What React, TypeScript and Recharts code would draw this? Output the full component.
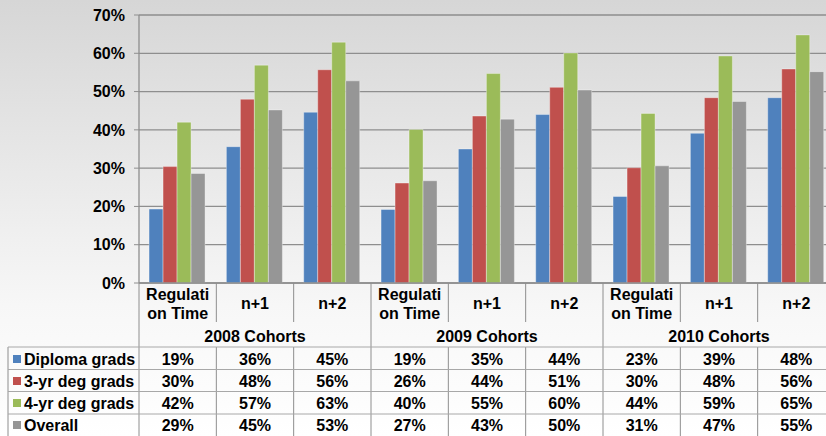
import React from 'react';
import { BarChart, Bar, XAxis, YAxis, CartesianGrid } from 'recharts';

const cohorts = ['2008 Cohorts', '2009 Cohorts', '2010 Cohorts'];
const periods = ['Regulation Time', 'n+1', 'n+2'];
const periodLabels = [['Regulati', 'on Time'], ['n+1'], ['n+2']];
const yTicks = [0, 10, 20, 30, 40, 50, 60, 70];

const diploma = [19.3, 35.6, 44.6, 19.2, 35.0, 44.0, 22.6, 39.1, 48.4];
const threeYr = [30.4, 48.0, 55.7, 26.1, 43.6, 51.1, 30.1, 48.4, 55.9];
const fourYr = [42.0, 56.9, 62.9, 40.1, 54.7, 60.1, 44.3, 59.3, 64.8];
const overall = [28.6, 45.2, 52.8, 26.7, 42.8, 50.4, 30.6, 47.4, 55.2];

const series = [
  { key: 'diploma', name: 'Diploma grads', color: '#4F81BD', values: diploma },
  { key: 'threeYr', name: '3-yr deg grads', color: '#C0504D', values: threeYr },
  { key: 'fourYr', name: '4-yr deg grads', color: '#9BBB59', values: fourYr },
  { key: 'overall', name: 'Overall', color: '#969696', values: overall },
];

const data = cohorts.flatMap((c, ci) =>
  periods.map((p, pi) => {
    const i = ci * 3 + pi;
    const row: any = { id: `${c}|${p}`, cohort: c, period: pi };
    series.forEach((s) => (row[s.key] = s.values[i]));
    return row;
  })
);

const FONT = '"Liberation Sans", Arial, sans-serif';
const DIV = '#8e8e8e';
const ROWLINE = '#a8a8a8';
const BOTTOM = 436;
// offsets below the axis line
const rowLines = [64, 86.5, 108.5, 131];
const rowCenters = [76, 98, 120, 142];

const txt = { fontFamily: FONT, fontWeight: 700, fontSize: 16, fill: '#000' } as const;

const TableTick = (props: any) => {
  const { x, y, payload } = props;
  const index: number = payload?.index ?? props.index ?? 0;
  const half: number = payload?.offset || 38.67;
  const left = x - half;
  const right = x + half;
  const row = data[index];
  const labels = periodLabels[row.period];
  const isCohortEnd = row.period === 2;

  return (
    <g>
      {index === 0 && (
        <g>
          <line x1={left} x2={left} y1={y} y2={BOTTOM} stroke={DIV} />
          <line x1={8} x2={8} y1={y + rowLines[0]} y2={BOTTOM} stroke={DIV} />
          {rowLines.map((r) => (
            <line key={r} x1={8} x2={left} y1={y + r} y2={y + r} stroke={ROWLINE} />
          ))}
          {series.map((s, si) => (
            <g key={s.key}>
              <rect x={13} y={y + rowCenters[si] - 4} width={8} height={8} fill={s.color} />
              <text x={24} y={y + rowCenters[si]} dominantBaseline="central" {...txt}>
                {s.name}
              </text>
            </g>
          ))}
        </g>
      )}
      {/* right divider */}
      {isCohortEnd ? (
        <line x1={right} x2={right} y1={y} y2={BOTTOM} stroke={DIV} />
      ) : (
        <g>
          <line x1={right} x2={right} y1={y} y2={y + 39} stroke={DIV} />
          <line x1={right} x2={right} y1={y + rowLines[0]} y2={BOTTOM} stroke={DIV} />
        </g>
      )}
      {rowLines.map((r) => (
        <line key={r} x1={left} x2={right} y1={y + r} y2={y + r} stroke={ROWLINE} />
      ))}
      {labels.length === 2 ? (
        <g>
          <text x={x} y={y + 11} textAnchor="middle" dominantBaseline="central" {...txt}>
            {labels[0]}
          </text>
          <text x={x} y={y + 30} textAnchor="middle" dominantBaseline="central" {...txt}>
            {labels[1]}
          </text>
        </g>
      ) : (
        <text x={x} y={y + 20} textAnchor="middle" dominantBaseline="central" {...txt}>
          {labels[0]}
        </text>
      )}
      {row.period === 1 && (
        <text x={x} y={y + 53} textAnchor="middle" dominantBaseline="central" {...txt}>
          {row.cohort}
        </text>
      )}
      {series.map((s, si) => (
        <text
          key={s.key}
          x={x}
          y={y + rowCenters[si]}
          textAnchor="middle"
          dominantBaseline="central"
          {...txt}
        >
          {`${Math.round(row[s.key])}%`}
        </text>
      ))}
    </g>
  );
};

export default function App() {
  return (
    <div
      style={{
        position: 'absolute',
        left: 0,
        top: 0,
        width: 826,
        height: 436,
        overflow: 'hidden',
        background: 'linear-gradient(to bottom, #d6d6d6 0%, #e9e9e9 40%, #f7f7f7 70%, #ffffff 100%)',
      }}
    >
      <BarChart
        width={850}
        height={436}
        data={data}
        margin={{ top: 15, right: 15, left: 0, bottom: 0 }}
        barCategoryGap="13%"
        barGap={0}
      >
        <CartesianGrid vertical={false} stroke={DIV} strokeWidth={1.3} />
        <XAxis
          dataKey="id"
          height={153}
          interval={0}
          tickSize={0}
          tickMargin={0}
          tickLine={false}
          axisLine={{ stroke: DIV, strokeWidth: 1.3 }}
          tick={(p: any) => <TableTick {...p} />}
        />
        <YAxis
          width={139}
          domain={[0, 70]}
          ticks={yTicks}
          interval={0}
          tickFormatter={(v: number) => `${v}%`}
          tickSize={5}
          tickMargin={9}
          tickLine={{ stroke: DIV }}
          axisLine={{ stroke: DIV, strokeWidth: 1.3 }}
          tick={{ ...txt }}
        />
        {series.map((s) => (
          <Bar
            key={s.key}
            dataKey={s.key}
            name={s.name}
            fill={s.color}
            stroke="rgba(255,255,255,0.35)"
            strokeWidth={1}
            isAnimationActive={false}
          />
        ))}
      </BarChart>
    </div>
  );
}
